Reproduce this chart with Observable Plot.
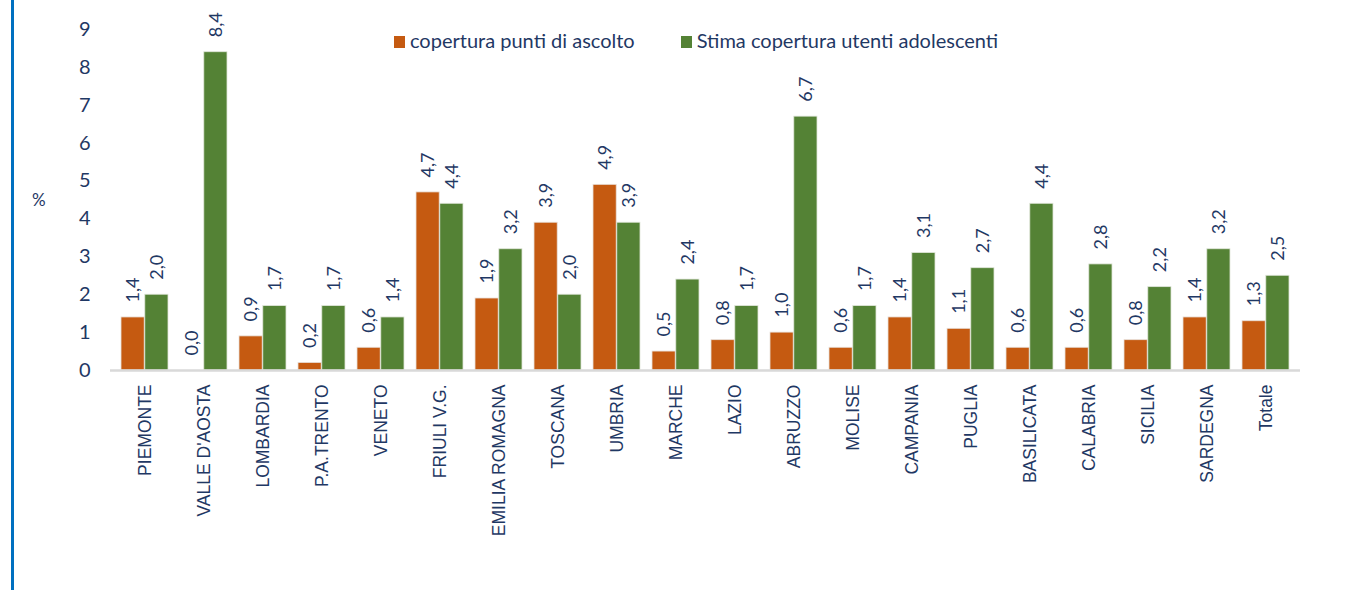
<!DOCTYPE html>
<html><head><meta charset="utf-8">
<script src="https://cdn.jsdelivr.net/npm/d3@7"></script>
<script src="https://cdn.jsdelivr.net/npm/@observablehq/plot@0.6"></script>
<style>
body{margin:0;background:#fff;}
#wrap{position:relative;width:1351px;height:590px;overflow:hidden;font-family:Lato,"Noto Sans",sans-serif;color:#1f3864;}
#border{position:absolute;left:11px;top:0;width:3px;height:590px;background:#0070c0;}
#chart{position:absolute;left:0;top:0;}
#legend{position:absolute;top:27px;left:394px;font-size:20px;white-space:nowrap;line-height:26px;}
#legend span.sw{display:inline-block;width:11px;height:12px;vertical-align:middle;margin-right:5px;position:relative;top:-1px;}
#legend span.item{display:inline-block;}
#pct{position:absolute;left:32px;top:189px;font-size:17px;}
</style></head><body>
<div id="wrap"><div id="border"></div><div id="chart"></div>
<div id="legend"><span class="item"><span class="sw" style="background:#c55a11"></span>copertura punti di ascolto</span><span class="item" style="margin-left:46px"><span class="sw" style="background:#548235"></span>Stima copertura utenti adolescenti</span></div>
<div id="pct">%</div>
</div>
<script>
const categories = ["PIEMONTE","VALLE D'AOSTA","LOMBARDIA","P.A.TRENTO","VENETO","FRIULI V.G.","EMILIA ROMAGNA","TOSCANA","UMBRIA","MARCHE","LAZIO","ABRUZZO","MOLISE","CAMPANIA","PUGLIA","BASILICATA","CALABRIA","SICILIA","SARDEGNA","Totale"];
const seriesNames = ["copertura punti di ascolto","Stima copertura utenti adolescenti"];
const copertura = [1.4,0.0,0.9,0.2,0.6,4.7,1.9,3.9,4.9,0.5,0.8,1.0,0.6,1.4,1.1,0.6,0.6,0.8,1.4,1.3];
const stima = [2.0,8.4,1.7,1.7,1.4,4.4,3.2,2.0,3.9,2.4,1.7,6.7,1.7,3.1,2.7,4.4,2.8,2.2,3.2,2.5];
const yTicks = [0,1,2,3,4,5,6,7,8,9];

const colors = ["#c55a11","#548235"];
const navy = "#1f3864";
const W = 1351, H = 590, mL = 110, mR = 51, mT = 29, mB = 220;
const pIn = 0.2, pOut = 0.1;
const step = (W - mL - mR) / (categories.length - pIn + 2 * pOut);
const bw = step * (1 - pIn);

const dataA = categories.map((c, i) => ({cat: c, value: copertura[i]}));
const dataB = categories.map((c, i) => ({cat: c, value: stima[i]}));
const fmt = v => v.toFixed(1).replace(".", ",");

const plot = Plot.plot({
  width: W, height: H,
  marginLeft: mL, marginRight: mR, marginTop: mT, marginBottom: mB,
  style: {fontFamily: "Lato, 'Noto Sans', sans-serif", color: navy, background: "transparent"},
  x: {domain: categories, paddingInner: pIn, paddingOuter: pOut},
  y: {domain: [0, 9]},
  marks: [
    Plot.barY(dataA, {x: "cat", y: "value", fill: colors[0], insetRight: bw / 2, stroke: "#e8e0da", strokeWidth: 0.8}),
    Plot.barY(dataB, {x: "cat", y: "value", fill: colors[1], insetLeft: bw / 2, stroke: "#e0e6da", strokeWidth: 0.8}),
    Plot.ruleY([0], {stroke: "#d9d9d9", strokeWidth: 2.5}),
    Plot.text(dataA, {x: "cat", y: "value", text: d => fmt(d.value), rotate: -90, textAnchor: "start", lineAnchor: "middle", dx: -bw / 4, dy: -15, fill: navy, fontSize: 18}),
    Plot.text(dataB, {x: "cat", y: "value", text: d => fmt(d.value), rotate: -90, textAnchor: "start", lineAnchor: "middle", dx: bw / 4, dy: -15, fill: navy, fontSize: 18}),
    Plot.axisY({ticks: yTicks, tickSize: 0, tickPadding: 20, fontSize: 20, label: null, tickFormat: d => String(d), fill: navy}),
    Plot.axisX({tickSize: 0, tickPadding: 14, tickRotate: -90, fontSize: 17.5, label: null, fill: navy, fontFamily: "'Liberation Sans', Arial, sans-serif"})
  ]
});
document.getElementById("chart").appendChild(plot);
</script>
</body></html>
